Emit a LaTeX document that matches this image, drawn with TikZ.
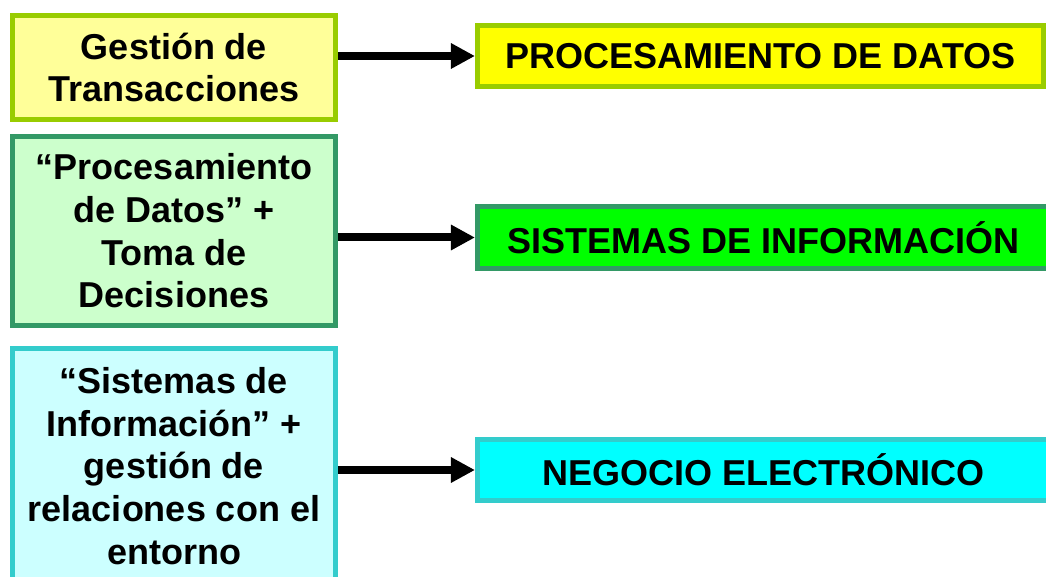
\documentclass[tikz,border=0pt]{standalone}
\usepackage{fontspec}
\setmainfont{Liberation Sans}
\usetikzlibrary{arrows.meta}
\definecolor{lyb}{HTML}{99CC00}
\definecolor{lyf}{HTML}{FFFF99}
\definecolor{lgb}{HTML}{339966}
\definecolor{lgf}{HTML}{CCFFCC}
\definecolor{lcb}{HTML}{33CCCC}
\definecolor{lcf}{HTML}{CCFFFF}
\definecolor{ry}{HTML}{FFFF00}
\definecolor{rg}{HTML}{00FF00}
\definecolor{rc}{HTML}{00FFFF}
\tikzset{
  box/.style={draw, line width=3.4pt, align=center, inner sep=0pt,
    font=\fontsize{27}{32}\selectfont\bfseries},
  conn/.style={line width=6pt, -{Triangle[length=18pt,width=18pt]}}
}
\begin{document}
\begin{tikzpicture}[x=0.75pt,y=-0.75pt]
\useasboundingbox (0,0) rectangle (1046,577);
% left boxes
\node[box, draw=lyb, fill=lyf, minimum width=323.5*0.75pt, minimum height=104.5*0.75pt] (l1) at (174,67.5) {Gestión de\\Transacciones};
\node[box, draw=lgb, fill=lgf, minimum width=323.5*0.75pt, minimum height=189.5*0.75pt] (l2) at (174,231) {“Procesamiento\\de Datos” +\\Toma de\\Decisiones};
\node[box, draw=lcb, fill=lcf, minimum width=323.5*0.75pt, minimum height=235.5*0.75pt] (l3) at (174,466) {“Sistemas de\\Información” +\\gestión de\\relaciones con el\\entorno};
% right boxes
\node[box, draw=lyb, fill=ry, minimum width=566.5*0.75pt, minimum height=61.5*0.75pt] (r1) at (760.5,56) {PROCESAMIENTO DE DATOS};
\node[box, draw=lgb, fill=rg, minimum width=572.5*0.75pt, minimum height=62.5*0.75pt] (r2) at (763.5,237.5) {SISTEMAS DE INFORMACIÓN};
\node[box, draw=lcb, fill=rc, minimum width=572.5*0.75pt, minimum height=61.5*0.75pt] (r3) at (763.5,470) {NEGOCIO ELECTRÓNICO};
% connectors
\draw[conn] (l1.east |- r1.west) -- (r1.west);
\draw[conn] (l2.east |- r2.west) -- (r2.west);
\draw[conn] (l3.east |- r3.west) -- (r3.west);
\end{tikzpicture}
\end{document}
